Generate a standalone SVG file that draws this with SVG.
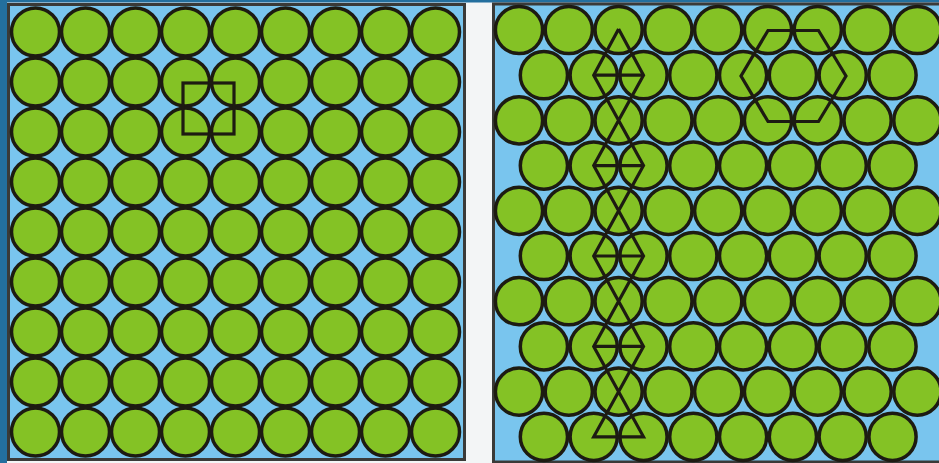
<svg xmlns="http://www.w3.org/2000/svg" width="939" height="463" viewBox="0 0 939 463">
<style>
.bg{fill:#f3f5f6}
.edge{fill:#236f9e}
.panel{fill:#79c5ee;stroke:#3a3a38;stroke-width:3}
.c{fill:#84c225;stroke:#1d1b12;stroke-width:3.5}
.ln{fill:none;stroke:#1d1b12;stroke-width:3.2;stroke-linejoin:miter}
</style>
<defs>
<circle id="cl" r="24" class="c"/>
<circle id="cr" r="23.6" class="c"/>
</defs>
<rect class="bg" x="0" y="0" width="939" height="463"/>
<rect class="edge" x="0" y="0" width="939" height="2.5"/>
<rect class="edge" x="0" y="0" width="7" height="463"/>
<g id="left-panel">
<rect class="panel" x="8.5" y="4.5" width="456" height="455"/>
<g id="left-row1"><use href="#cl" x="35.5" y="32"/><use href="#cl" x="85.5" y="32"/><use href="#cl" x="135.5" y="32"/><use href="#cl" x="185.5" y="32"/><use href="#cl" x="235.5" y="32"/><use href="#cl" x="285.5" y="32"/><use href="#cl" x="335.5" y="32"/><use href="#cl" x="385.5" y="32"/><use href="#cl" x="435.5" y="32"/></g>
<g id="left-row2"><use href="#cl" x="35.5" y="82"/><use href="#cl" x="85.5" y="82"/><use href="#cl" x="135.5" y="82"/><use href="#cl" x="185.5" y="82"/><use href="#cl" x="235.5" y="82"/><use href="#cl" x="285.5" y="82"/><use href="#cl" x="335.5" y="82"/><use href="#cl" x="385.5" y="82"/><use href="#cl" x="435.5" y="82"/></g>
<g id="left-row3"><use href="#cl" x="35.5" y="132"/><use href="#cl" x="85.5" y="132"/><use href="#cl" x="135.5" y="132"/><use href="#cl" x="185.5" y="132"/><use href="#cl" x="235.5" y="132"/><use href="#cl" x="285.5" y="132"/><use href="#cl" x="335.5" y="132"/><use href="#cl" x="385.5" y="132"/><use href="#cl" x="435.5" y="132"/></g>
<g id="left-row4"><use href="#cl" x="35.5" y="182"/><use href="#cl" x="85.5" y="182"/><use href="#cl" x="135.5" y="182"/><use href="#cl" x="185.5" y="182"/><use href="#cl" x="235.5" y="182"/><use href="#cl" x="285.5" y="182"/><use href="#cl" x="335.5" y="182"/><use href="#cl" x="385.5" y="182"/><use href="#cl" x="435.5" y="182"/></g>
<g id="left-row5"><use href="#cl" x="35.5" y="232"/><use href="#cl" x="85.5" y="232"/><use href="#cl" x="135.5" y="232"/><use href="#cl" x="185.5" y="232"/><use href="#cl" x="235.5" y="232"/><use href="#cl" x="285.5" y="232"/><use href="#cl" x="335.5" y="232"/><use href="#cl" x="385.5" y="232"/><use href="#cl" x="435.5" y="232"/></g>
<g id="left-row6"><use href="#cl" x="35.5" y="282"/><use href="#cl" x="85.5" y="282"/><use href="#cl" x="135.5" y="282"/><use href="#cl" x="185.5" y="282"/><use href="#cl" x="235.5" y="282"/><use href="#cl" x="285.5" y="282"/><use href="#cl" x="335.5" y="282"/><use href="#cl" x="385.5" y="282"/><use href="#cl" x="435.5" y="282"/></g>
<g id="left-row7"><use href="#cl" x="35.5" y="332"/><use href="#cl" x="85.5" y="332"/><use href="#cl" x="135.5" y="332"/><use href="#cl" x="185.5" y="332"/><use href="#cl" x="235.5" y="332"/><use href="#cl" x="285.5" y="332"/><use href="#cl" x="335.5" y="332"/><use href="#cl" x="385.5" y="332"/><use href="#cl" x="435.5" y="332"/></g>
<g id="left-row8"><use href="#cl" x="35.5" y="382"/><use href="#cl" x="85.5" y="382"/><use href="#cl" x="135.5" y="382"/><use href="#cl" x="185.5" y="382"/><use href="#cl" x="235.5" y="382"/><use href="#cl" x="285.5" y="382"/><use href="#cl" x="335.5" y="382"/><use href="#cl" x="385.5" y="382"/><use href="#cl" x="435.5" y="382"/></g>
<g id="left-row9"><use href="#cl" x="35.5" y="432"/><use href="#cl" x="85.5" y="432"/><use href="#cl" x="135.5" y="432"/><use href="#cl" x="185.5" y="432"/><use href="#cl" x="235.5" y="432"/><use href="#cl" x="285.5" y="432"/><use href="#cl" x="335.5" y="432"/><use href="#cl" x="385.5" y="432"/><use href="#cl" x="435.5" y="432"/></g>
<rect id="unit-square" class="ln" x="183" y="83" width="51" height="51"/>
</g>
<g id="right-panel">
<rect class="panel" x="493.5" y="4" width="470" height="458"/>
<g id="right-row1"><use href="#cr" x="519" y="30"/><use href="#cr" x="568.8" y="30"/><use href="#cr" x="618.6" y="30"/><use href="#cr" x="668.4" y="30"/><use href="#cr" x="718.2" y="30"/><use href="#cr" x="768" y="30"/><use href="#cr" x="817.8" y="30"/><use href="#cr" x="867.6" y="30"/><use href="#cr" x="917.4" y="30"/></g>
<g id="right-row2"><use href="#cr" x="543.9" y="75.2"/><use href="#cr" x="593.7" y="75.2"/><use href="#cr" x="643.5" y="75.2"/><use href="#cr" x="693.3" y="75.2"/><use href="#cr" x="743.1" y="75.2"/><use href="#cr" x="792.9" y="75.2"/><use href="#cr" x="842.7" y="75.2"/><use href="#cr" x="892.5" y="75.2"/></g>
<g id="right-row3"><use href="#cr" x="519" y="120.4"/><use href="#cr" x="568.8" y="120.4"/><use href="#cr" x="618.6" y="120.4"/><use href="#cr" x="668.4" y="120.4"/><use href="#cr" x="718.2" y="120.4"/><use href="#cr" x="768" y="120.4"/><use href="#cr" x="817.8" y="120.4"/><use href="#cr" x="867.6" y="120.4"/><use href="#cr" x="917.4" y="120.4"/></g>
<g id="right-row4"><use href="#cr" x="543.9" y="165.6"/><use href="#cr" x="593.7" y="165.6"/><use href="#cr" x="643.5" y="165.6"/><use href="#cr" x="693.3" y="165.6"/><use href="#cr" x="743.1" y="165.6"/><use href="#cr" x="792.9" y="165.6"/><use href="#cr" x="842.7" y="165.6"/><use href="#cr" x="892.5" y="165.6"/></g>
<g id="right-row5"><use href="#cr" x="519" y="210.8"/><use href="#cr" x="568.8" y="210.8"/><use href="#cr" x="618.6" y="210.8"/><use href="#cr" x="668.4" y="210.8"/><use href="#cr" x="718.2" y="210.8"/><use href="#cr" x="768" y="210.8"/><use href="#cr" x="817.8" y="210.8"/><use href="#cr" x="867.6" y="210.8"/><use href="#cr" x="917.4" y="210.8"/></g>
<g id="right-row6"><use href="#cr" x="543.9" y="256"/><use href="#cr" x="593.7" y="256"/><use href="#cr" x="643.5" y="256"/><use href="#cr" x="693.3" y="256"/><use href="#cr" x="743.1" y="256"/><use href="#cr" x="792.9" y="256"/><use href="#cr" x="842.7" y="256"/><use href="#cr" x="892.5" y="256"/></g>
<g id="right-row7"><use href="#cr" x="519" y="301.2"/><use href="#cr" x="568.8" y="301.2"/><use href="#cr" x="618.6" y="301.2"/><use href="#cr" x="668.4" y="301.2"/><use href="#cr" x="718.2" y="301.2"/><use href="#cr" x="768" y="301.2"/><use href="#cr" x="817.8" y="301.2"/><use href="#cr" x="867.6" y="301.2"/><use href="#cr" x="917.4" y="301.2"/></g>
<g id="right-row8"><use href="#cr" x="543.9" y="346.4"/><use href="#cr" x="593.7" y="346.4"/><use href="#cr" x="643.5" y="346.4"/><use href="#cr" x="693.3" y="346.4"/><use href="#cr" x="743.1" y="346.4"/><use href="#cr" x="792.9" y="346.4"/><use href="#cr" x="842.7" y="346.4"/><use href="#cr" x="892.5" y="346.4"/></g>
<g id="right-row9"><use href="#cr" x="519" y="391.6"/><use href="#cr" x="568.8" y="391.6"/><use href="#cr" x="618.6" y="391.6"/><use href="#cr" x="668.4" y="391.6"/><use href="#cr" x="718.2" y="391.6"/><use href="#cr" x="768" y="391.6"/><use href="#cr" x="817.8" y="391.6"/><use href="#cr" x="867.6" y="391.6"/><use href="#cr" x="917.4" y="391.6"/></g>
<g id="right-row10"><use href="#cr" x="543.9" y="436.8"/><use href="#cr" x="593.7" y="436.8"/><use href="#cr" x="643.5" y="436.8"/><use href="#cr" x="693.3" y="436.8"/><use href="#cr" x="743.1" y="436.8"/><use href="#cr" x="792.9" y="436.8"/><use href="#cr" x="842.7" y="436.8"/><use href="#cr" x="892.5" y="436.8"/></g>
<polygon id="hexagon" class="ln" points="768,30.5 818.5,30.5 846,76 818.5,121.5 768,121.5 741,76"/>
<g id="triangle-chain">
<polyline class="ln" points="618.6,29 593.7,75.2 643.5,165.6 593.7,256 643.5,346.4 593.7,436.8 643.5,436.8 593.7,346.4 643.5,256 593.7,165.6 643.5,75.2 618.6,29"/>
<line class="ln" x1="593.7" y1="75.2" x2="643.5" y2="75.2"/>
<line class="ln" x1="593.7" y1="165.6" x2="643.5" y2="165.6"/>
<line class="ln" x1="593.7" y1="256" x2="643.5" y2="256"/>
<line class="ln" x1="593.7" y1="346.4" x2="643.5" y2="346.4"/>
</g>
</g>
</svg>
